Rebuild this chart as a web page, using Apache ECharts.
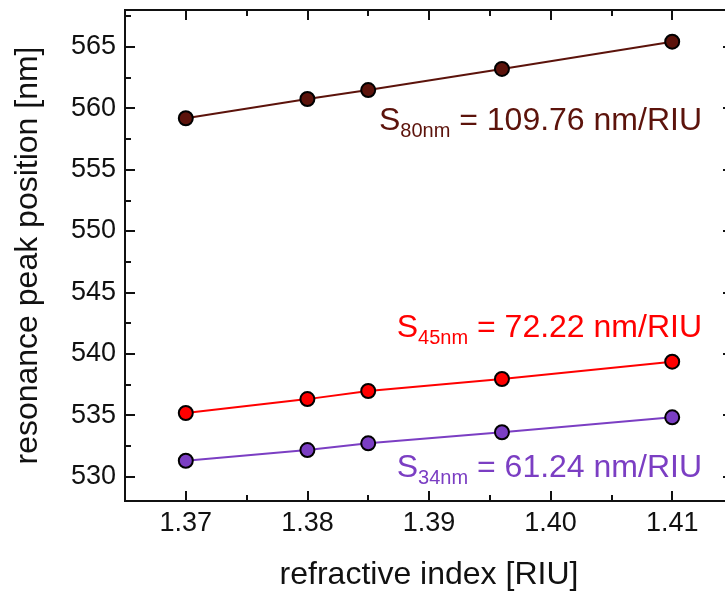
<!DOCTYPE html>
<html>
<head>
<meta charset="utf-8">
<script src="https://cdn.jsdelivr.net/npm/echarts@6/dist/echarts.min.js"></script>
<style>html,body{margin:0;padding:0;background:#fff}#c{width:725px;height:592px}</style>
</head>
<body>
<div id="c"></div>
<script>
var refractiveIndex = [1.37, 1.38, 1.385, 1.396, 1.41];
var peak80nm = [559.18, 560.75, 561.48, 563.2, 565.42];
var peak45nm = [535.17, 536.3, 536.96, 537.94, 539.35];
var peak34nm = [531.28, 532.15, 532.7, 533.6, 534.82];
var xTicks = [1.37, 1.38, 1.39, 1.40, 1.41];
var xMinorTicks = [1.375, 1.385, 1.395, 1.405];
var yTicks = [530, 535, 540, 545, 550, 555, 560, 565];
var yMinorTicks = [532.5, 537.5, 542.5, 547.5, 552.5, 557.5, 562.5, 567.5];
var labels = [
  {sub: '80nm', rest: ' = 109.76 nm/RIU'},
  {sub: '45nm', rest: ' = 72.22 nm/RIU'},
  {sub: '34nm', rest: ' = 61.24 nm/RIU'}
];

var FONT = 'Liberation Sans, Arial, sans-serif';
var C80 = '#5c130b', C45 = '#ff0000', C34 = '#7b3ec3';

function xAx(pos, ticks, len, showLabel, name) {
  return {
    type: 'value', position: pos, min: 1.365, max: 1.415,
    name: name || '', nameLocation: 'middle', nameGap: 58,
    nameTextStyle: {fontFamily: FONT, fontSize: 32, color: '#111'},
    axisLine: {show: true, onZero: false, lineStyle: {color: '#111', width: 2}},
    axisTick: {show: true, inside: true, length: len, customValues: ticks, lineStyle: {color: '#111', width: 2}},
    axisLabel: {show: showLabel, customValues: ticks, margin: 9, fontFamily: FONT, fontSize: 27, color: '#111',
      formatter: function (v) { return Number(v).toFixed(2); }},
    splitLine: {show: false}
  };
}
function yAx(pos, ticks, len, showLabel, name) {
  return {
    type: 'value', position: pos, min: 528, max: 568,
    name: name || '', nameLocation: 'middle', nameGap: 81,
    nameTextStyle: {fontFamily: FONT, fontSize: 32, color: '#111'},
    axisLine: {show: true, onZero: false, lineStyle: {color: '#111', width: 2}},
    axisTick: {show: true, inside: true, length: len, customValues: ticks, lineStyle: {color: '#111', width: 2}},
    axisLabel: {show: showLabel, customValues: ticks, margin: 9, fontFamily: FONT, fontSize: 27, color: '#111'},
    splitLine: {show: false}
  };
}

function series(name, vals, color) {
  return {
    name: name, type: 'line', xAxisIndex: 0, yAxisIndex: 0,
    data: refractiveIndex.map(function (x, i) { return [x, vals[i]]; }),
    symbol: 'circle', symbolSize: 14,
    lineStyle: {color: color, width: 2},
    itemStyle: {color: color, borderColor: '#000', borderWidth: 2},
    z: 3
  };
}

function annot(l, color, y) {
  return {
    type: 'text', x: 702, y: y, z: 10,
    style: {
      text: '{s|S}{b|' + l.sub + '}{s|' + l.rest + '}',
      align: 'right', verticalAlign: 'middle',
      fill: color,
      rich: {
        s: {fontFamily: FONT, fontSize: 32, fill: color, color: color},
        b: {fontFamily: FONT, fontSize: 20, fill: color, color: color, padding: [20, 0, 0, 0]}
      }
    }
  };
}

var chart = echarts.init(document.getElementById('c'), null, {renderer: 'canvas'});
chart.setOption({
  animation: false,
  backgroundColor: '#fff',
  grid: {left: 125, top: 10, width: 608, height: 491, containLabel: false, outerBoundsMode: 'none'},
  xAxis: [
    xAx('bottom', xTicks, 10, true, 'refractive index [RIU]'),
    xAx('bottom', xMinorTicks, 6, false),
    xAx('top', xTicks, 10, false),
    xAx('top', xMinorTicks, 6, false)
  ],
  yAxis: [
    yAx('left', yTicks, 10, true, 'resonance peak position [nm]'),
    yAx('left', yMinorTicks, 6, false),
    yAx('right', yTicks, 10, false),
    yAx('right', yMinorTicks, 6, false)
  ],
  series: [
    series('80nm', peak80nm, C80),
    series('45nm', peak45nm, C45),
    series('34nm', peak34nm, C34)
  ],
  graphic: [
    annot(labels[0], C80, 121),
    annot(labels[1], C45, 328),
    annot(labels[2], C34, 468)
  ]
});
</script>
</body>
</html>
